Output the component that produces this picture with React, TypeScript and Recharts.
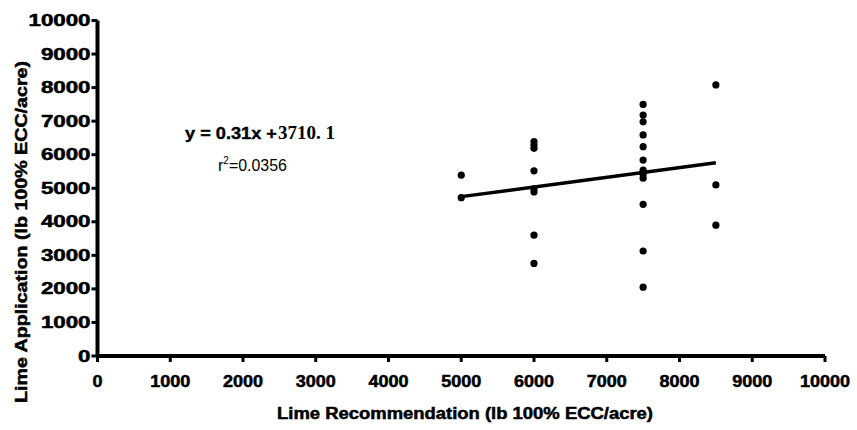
import React from "react";
import { ScatterChart, Scatter, XAxis, YAxis, ReferenceLine, Customized } from "recharts";

const recommendation = [5000, 5000, 6000, 6000, 6000, 6000, 6000, 6000, 6000, 6000,
  7500, 7500, 7500, 7500, 7500, 7500, 7500, 7500, 7500, 7500, 7500, 7500,
  8500, 8500, 8500];
const application = [5390, 4720, 6390, 6290, 6190, 5520, 4980, 4890, 3600, 2760,
  7500, 7180, 6980, 6590, 6240, 5840, 5540, 5420, 5300, 4520, 3130, 2050,
  8080, 5100, 3900];
const trendX = [5000, 8500];
const trendY = [4750, 5760];
const axisTicks = [0, 1000, 2000, 3000, 4000, 5000, 6000, 7000, 8000, 9000, 10000];
const xTitle = "Lime Recommendation (lb 100% ECC/acre)";
const yTitle = "Lime Application (lb 100% ECC/acre)";
const eqLeft = "y = 0.31x +";
const eqRight = "3710. 1";
const r2Text = "=0.0356";

const data = recommendation.map((x, i) => ({ x, y: application[i] }));

const FONT = "'Liberation Sans', Arial, sans-serif";

const XTick = (props: any) => {
  const { x, y, payload } = props;
  const s = String(payload.value);
  return (
    <text x={x} y={y + 19} textAnchor="middle" dominantBaseline="central" fontFamily={FONT}
      fontWeight="bold" fontSize={16} fill="#000" stroke="#000" strokeWidth={0.5}
      textLength={s.length * 10} lengthAdjust="spacingAndGlyphs">
      {s}
    </text>
  );
};

const YTick = (props: any) => {
  const { x, y, payload } = props;
  const s = String(payload.value);
  return (
    <text x={x - 1} y={y} textAnchor="end" dominantBaseline="central" fontFamily={FONT}
      fontWeight="bold" fontSize={16} fill="#000" stroke="#000" strokeWidth={0.5}
      textLength={s.length * 12.4} lengthAdjust="spacingAndGlyphs">
      {s}
    </text>
  );
};

const Dot = (props: any) => {
  const { cx, cy } = props;
  return <circle cx={cx} cy={cy} r={3.6} fill="#000" />;
};

const Annotations = () => (
  <g>
    <text x={465} y={413} textAnchor="middle" dominantBaseline="central" fontFamily={FONT}
      fontWeight="bold" fontSize={16} fill="#000" stroke="#000" strokeWidth={0.5}
      textLength={376} lengthAdjust="spacingAndGlyphs">
      {xTitle}
    </text>
    <text x={21} y={232} transform="rotate(-90 21 232)" textAnchor="middle" dominantBaseline="central"
      fontFamily={FONT} fontWeight="bold" fontSize={16} fill="#000" stroke="#000" strokeWidth={0.5}
      textLength={342} lengthAdjust="spacingAndGlyphs">
      {yTitle}
    </text>
    <text x={185} y={139} fontFamily={FONT} fontWeight="bold" fontSize={17} fill="#000"
      stroke="#000" strokeWidth={0.4} textLength={92} lengthAdjust="spacingAndGlyphs">
      {eqLeft}
    </text>
    <text x={278} y={139} fontFamily="'Liberation Serif', 'Times New Roman', serif" fontWeight="bold" fontSize={18} fill="#000"
      textLength={57} lengthAdjust="spacingAndGlyphs">
      {eqRight}
    </text>
    <text x={218} y={171} fontFamily={FONT} fontSize={16} fill="#000">
      <tspan>r</tspan>
      <tspan dy={-7} fontSize={10}>2</tspan>
      <tspan dy={7} textLength={58} lengthAdjust="spacingAndGlyphs">{r2Text}</tspan>
    </text>
  </g>
);

export default function App() {
  return (
    <div style={{ position: "absolute", left: 0, top: 0, width: 857, height: 430, background: "#fff" }}>
      <ScatterChart width={857} height={430} margin={{ top: 20.5, right: 32, bottom: 0, left: 0 }}>
        <XAxis type="number" dataKey="x" domain={[0, 10000]} ticks={axisTicks} interval={0}
          height={74} tickSize={6} tickMargin={0} tick={<XTick />}
          axisLine={{ stroke: "#000", strokeWidth: 4 }} tickLine={{ stroke: "#000", strokeWidth: 3 }} />
        <YAxis type="number" dataKey="y" domain={[0, 10000]} ticks={axisTicks} interval={0}
          width={97.5} tickSize={6} tickMargin={0} tick={<YTick />}
          axisLine={{ stroke: "#000", strokeWidth: 4 }} tickLine={{ stroke: "#000", strokeWidth: 3 }} />
        <ReferenceLine segment={[{ x: trendX[0], y: trendY[0] }, { x: trendX[1], y: trendY[1] }]}
          stroke="#000" strokeWidth={3.5} ifOverflow="visible" />
        <Scatter data={data} shape={<Dot />} isAnimationActive={false} />
        <Customized component={<Annotations />} />
      </ScatterChart>
    </div>
  );
}
